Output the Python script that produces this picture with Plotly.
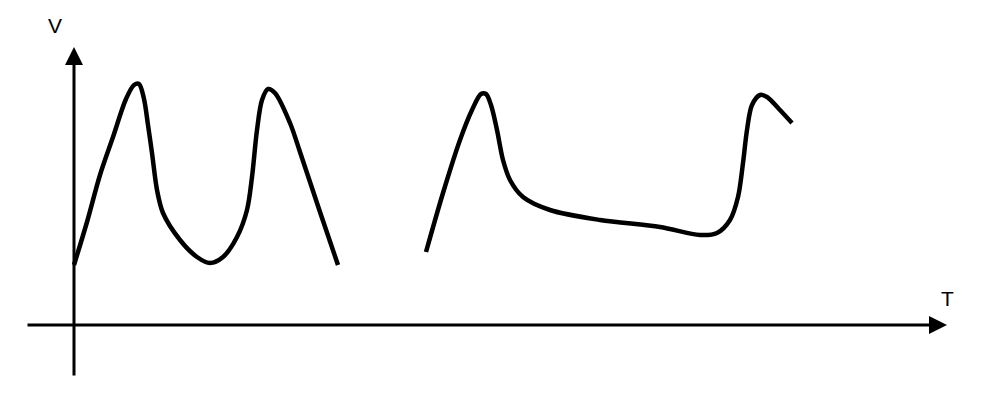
import plotly.graph_objects as go

# curve samples, T and V measured from the axes' crossing point
t1 = [0, 13, 26, 39, 52, 60, 65, 70, 74, 78, 83, 89, 106, 123, 136, 149, 163, 173, 178, 183, 188, 194,
      201, 216, 226, 246, 264]
v1 = [60, 103, 150, 188, 226, 240, 241, 226, 200, 172, 135, 112, 85, 68, 62, 68, 88, 115, 148, 195, 225, 236,
      232, 202, 173, 113, 60]

t2 = [352, 369, 386, 398, 407, 412, 417, 423, 429, 436, 449, 476, 526, 586, 626, 643, 656, 664, 669, 673,
      678, 686, 693, 705, 718]
v2 = [73, 132, 185, 215, 231, 231, 220, 195, 165, 145, 128, 115, 105, 98, 90, 92, 105, 128, 162, 195,
      220, 230, 228, 216, 202]

x_label = "T"
y_label = "V"

fig = go.Figure()
for t, v in [(t1, v1), (t2, v2)]:
    fig.add_trace(go.Scatter(x=t, y=v, mode="lines",
                             line=dict(color="black", width=4.5, shape="spline", smoothing=0.9),
                             hoverinfo="skip", showlegend=False))

# axes with arrow heads
fig.add_annotation(x=873, y=0, ax=-48, ay=0, xref="x", yref="y", axref="x", ayref="y",
                   showarrow=True, arrowhead=2, arrowsize=1.2, arrowwidth=3, arrowcolor="black", text="")
fig.add_annotation(x=0, y=278, ax=0, ay=-52, xref="x", yref="y", axref="x", ayref="y",
                   showarrow=True, arrowhead=2, arrowsize=1.2, arrowwidth=3, arrowcolor="black", text="")
fig.add_annotation(x=873, y=27, text=x_label, showarrow=False,
                   font=dict(size=21, color="black"))
fig.add_annotation(x=-19, y=300, text=y_label, showarrow=False,
                   font=dict(size=21, color="black"))

# page body has an 8px margin, so the ranges are shifted to keep the origin at (74, 325)
fig.update_layout(
    width=991, height=406,
    margin=dict(l=0, r=0, t=0, b=0),
    paper_bgcolor="white", plot_bgcolor="white",
    font=dict(family="Liberation Sans, Arial, sans-serif"),
    xaxis=dict(range=[-66, 925], visible=False, fixedrange=True),
    yaxis=dict(range=[-89, 317], visible=False, fixedrange=True),
)

fig.write_html("out.html")
